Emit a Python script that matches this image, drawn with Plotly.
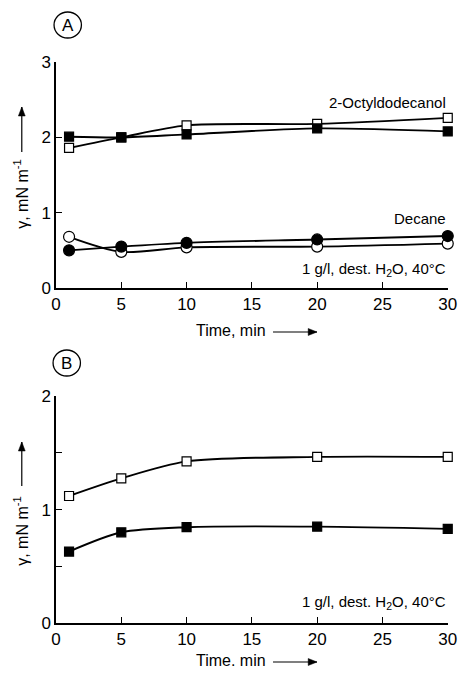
import plotly.graph_objects as go

# ---------------- data ----------------
time_min = [1, 5, 10, 20, 30]

# Panel A
octyl_filled = [2.01, 2.00, 2.04, 2.12, 2.08]
octyl_open = [1.86, 2.00, 2.16, 2.18, 2.26]
decane_filled = [0.50, 0.55, 0.60, 0.645, 0.69]
decane_open = [0.68, 0.48, 0.54, 0.55, 0.59]

# Panel B
b_open = [1.12, 1.275, 1.425, 1.465, 1.465]
b_filled = [0.63, 0.80, 0.845, 0.85, 0.83]

x_ticks = [0, 5, 10, 15, 20, 25, 30]
ya_ticks = [0, 1, 2, 3]
yb_ticks = [0, 1, 2]
yb_minor = [0.5, 1.5]

# ---------------- geometry (pixels) ----------------
W, H = 467, 673
ML, MR, MT, MB = 56, 10, 62, 50
PW = W - ML - MR
PH = H - MT - MB


def px(xp):
    return (xp - ML) / PW


def py(yp):
    return 1 - (yp - MT) / PH


FONT = "Liberation Sans, Arial, sans-serif"

fig = go.Figure()


def add_series(x, y, xa, ya, symbol, filled, size):
    fig.add_trace(go.Scatter(
        x=x, y=y, xaxis=xa, yaxis=ya, mode="lines+markers",
        line=dict(color="black", width=1.9, shape="spline", smoothing=0.8),
        marker=dict(symbol=symbol, size=size,
                    color="black" if filled else "white",
                    line=dict(color="black", width=1.2)),
        cliponaxis=False, showlegend=False, hoverinfo="skip"))


add_series(time_min, octyl_open, "x", "y", "square", False, 9)
add_series(time_min, octyl_filled, "x", "y", "square", True, 9)
add_series(time_min, decane_open, "x", "y", "circle", False, 11)
add_series(time_min, decane_filled, "x", "y", "circle", True, 11)
add_series(time_min, b_open, "x2", "y2", "square", False, 9)
add_series(time_min, b_filled, "x2", "y2", "square", True, 9)

domA = [py(288), 1.0]
domB = [0.0, py(396)]

axis_common = dict(
    showline=True, linecolor="black", linewidth=1.5, mirror=False,
    ticks="inside", ticklen=6, tickwidth=1.3, tickcolor="black",
    showgrid=False, zeroline=False,
    tickfont=dict(family=FONT, size=17, color="black"),
)

fig.update_layout(
    width=W, height=H,
    margin=dict(l=ML, r=MR, t=MT, b=MB),
    paper_bgcolor="white", plot_bgcolor="white",
    font=dict(family=FONT, color="black"),
    xaxis=dict(range=[0, 30.02], tickvals=x_ticks, domain=[0, 1], anchor="y", **axis_common),
    yaxis=dict(range=[0, 3.002], tickvals=ya_ticks, domain=domA, anchor="x", **axis_common),
    xaxis2=dict(range=[0, 30.02], tickvals=x_ticks, domain=[0, 1], anchor="y2", **axis_common),
    yaxis2=dict(range=[0, 2.002], tickvals=yb_ticks, domain=domB, anchor="x2",
                minor=dict(tickvals=yb_minor, ticks="inside", ticklen=6,
                           tickwidth=1.3, tickcolor="black", showgrid=False),
                **axis_common),
)

ann = []
shapes = []
# series labels and conditions
ann.append(dict(x=30, y=2.47, xref="x", yref="y", text="2-Octyldodecanol",
                xanchor="right", yanchor="middle", showarrow=False,
                font=dict(family=FONT, size=15)))
ann.append(dict(x=30, y=0.925, xref="x", yref="y", text="Decane",
                xanchor="right", yanchor="middle", showarrow=False,
                font=dict(family=FONT, size=15)))
cond = "1 g/l, dest. H<sub>2</sub>O, 40°C"
ann.append(dict(x=30, y=0.24, xref="x", yref="y", text=cond,
                xanchor="right", yanchor="middle", showarrow=False,
                font=dict(family=FONT, size=15)))
ann.append(dict(x=30, y=0.18, xref="x2", yref="y2", text=cond,
                xanchor="right", yanchor="middle", showarrow=False,
                font=dict(family=FONT, size=15)))


def arrow(x0, y0, x1, y1):
    """Arrow in pixel coords from (x0,y0) tail to (x1,y1) head."""
    shapes.append(dict(type="line", xref="paper", yref="paper",
                       x0=px(x0), y0=py(y0), x1=px(x1), y1=py(y1),
                       line=dict(color="black", width=1.2)))
    if y0 == y1:  # horizontal to the right
        pts = [(x1, y1), (x1 - 9, y1 - 3.5), (x1 - 9, y1 + 3.5)]
    else:  # vertical upward
        pts = [(x1, y1), (x1 - 3.5, y1 + 9), (x1 + 3.5, y1 + 9)]
    path = "M " + " L ".join(f"{px(a):.5f},{py(b):.5f}" for a, b in pts) + " Z"
    shapes.append(dict(type="path", xref="paper", yref="paper", path=path,
                       fillcolor="black", line=dict(color="black", width=0.5)))


# axis titles (x)
for ytxt, label in [(330, "Time, min"), (660, "Time. min")]:
    ann.append(dict(x=px(273), y=py(ytxt), xref="paper", yref="paper", text=label,
                    xanchor="right", yanchor="middle", showarrow=False,
                    font=dict(family=FONT, size=16)))
    arrow(278, ytxt + 2, 323, ytxt + 2)

# axis titles (y)
for ycen, atip, abase in [(194, 107, 152), (531, 442, 486)]:
    ann.append(dict(x=px(20), y=py(ycen), xref="paper", yref="paper",
                    text="γ, mN m<sup>-1</sup>", textangle=-90,
                    xanchor="center", yanchor="middle", showarrow=False,
                    font=dict(family=FONT, size=16)))
    arrow(21, abase, 21, atip)

# panel letters
for cx, cy, letter in [(68, 25, "A"), (67, 363, "B")]:
    shapes.append(dict(type="circle", xref="paper", yref="paper",
                       x0=px(cx - 14), x1=px(cx + 14), y0=py(cy + 13), y1=py(cy - 13),
                       line=dict(color="black", width=1.3), fillcolor="rgba(0,0,0,0)"))
    ann.append(dict(x=px(cx), y=py(cy), xref="paper", yref="paper", text=letter,
                    xanchor="center", yanchor="middle", showarrow=False,
                    font=dict(family=FONT, size=17)))

fig.update_layout(annotations=ann, shapes=shapes)

fig.write_html("out.html")
